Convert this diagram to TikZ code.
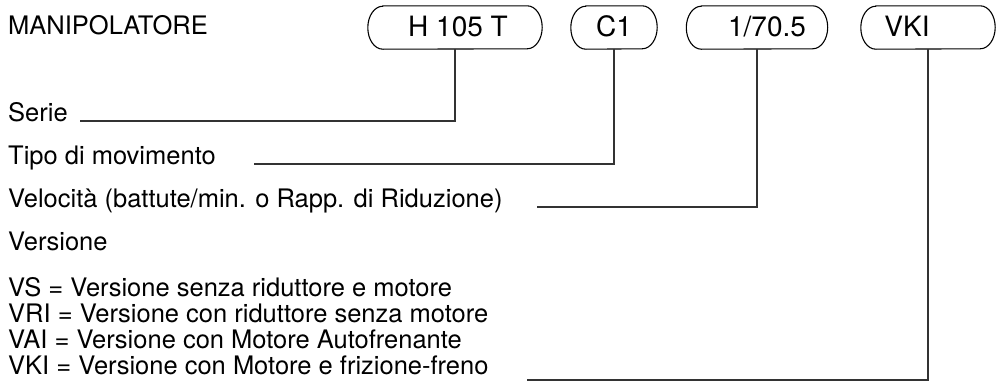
\documentclass[tikz,border=0pt]{standalone}
\usepackage{fontspec}
\setmainfont{TeX Gyre Heros}
\begin{document}
\begin{tikzpicture}[x=1pt,y=-1pt,
  lbl/.style={anchor=base west,inner sep=0pt,font=\fontsize{25.5}{30}\selectfont},
  code/.style={anchor=base,inner sep=0pt,font=\fontsize{28}{32}\selectfont},
  capsule/.style={draw=none,rectangle,inner sep=0pt,minimum height=43pt},
  boxline/.style={line width=1.1pt,black},
  leader/.style={line width=1.1pt,black!80}]
\useasboundingbox (0,0) rectangle (996,383);
\newcommand\capsulebox[1]{\draw[boxline] ([xshift=15pt]#1.north west) -- ([xshift=-15pt]#1.north east)
  arc[start angle=90,end angle=-90,x radius=15pt,y radius=21.5pt] -- ([xshift=15pt]#1.south west)
  arc[start angle=270,end angle=90,x radius=15pt,y radius=21.5pt] -- cycle;}
% boxes
\node[capsule,minimum width=174pt] (b1) at (455,27.5) {};
\node[capsule,minimum width=86pt] (b2) at (614,27.5) {};
\node[capsule,minimum width=141pt] (b3) at (757,27.5) {};
\node[capsule,minimum width=134pt] (b4) at (928,27.5) {};
\capsulebox{b1}\capsulebox{b2}\capsulebox{b3}\capsulebox{b4}
\node[code] (t1) at (458,36) {H 105 T};
\node[code] (t2) at (614,36) {C1};
\node[code] (t3) at (767,36) {1/70.5};
\node[code] (t4) at (907,36) {VKI};
% labels
\node[lbl] (m) at (8,34) {MANIPOLATORE};
\node[lbl] (serie) at (8,121) {Serie};
\node[lbl] (tipo) at (8,164) {Tipo di movimento};
\node[lbl] (vel) at (8,207) {Velocità (battute/min. o Rapp. di Riduzione)};
\node[lbl] (ver) at (8,250) {Versione};
\node[lbl] (vs) at (8,296) {VS = Versione senza riduttore e motore};
\node[lbl] (vri) at (8,322) {VRI = Versione con riduttore senza motore};
\node[lbl] (vai) at (8,348) {VAI = Versione con Motore Autofrenante};
\node[lbl] (vki) at (8,374) {VKI = Versione con Motore e frizione-freno};
% leader lines
\coordinate (s1) at (80,121);
\coordinate (s2) at (254,164);
\coordinate (s3) at (537,207);
\coordinate (s4) at (527,380);
\draw[leader] (s1) -| (b1.south);
\draw[leader] (s2) -| (b2.south);
\draw[leader] (s3) -| (b3.south);
\draw[leader] (s4) -| (b4.south);
\end{tikzpicture}
\end{document}
